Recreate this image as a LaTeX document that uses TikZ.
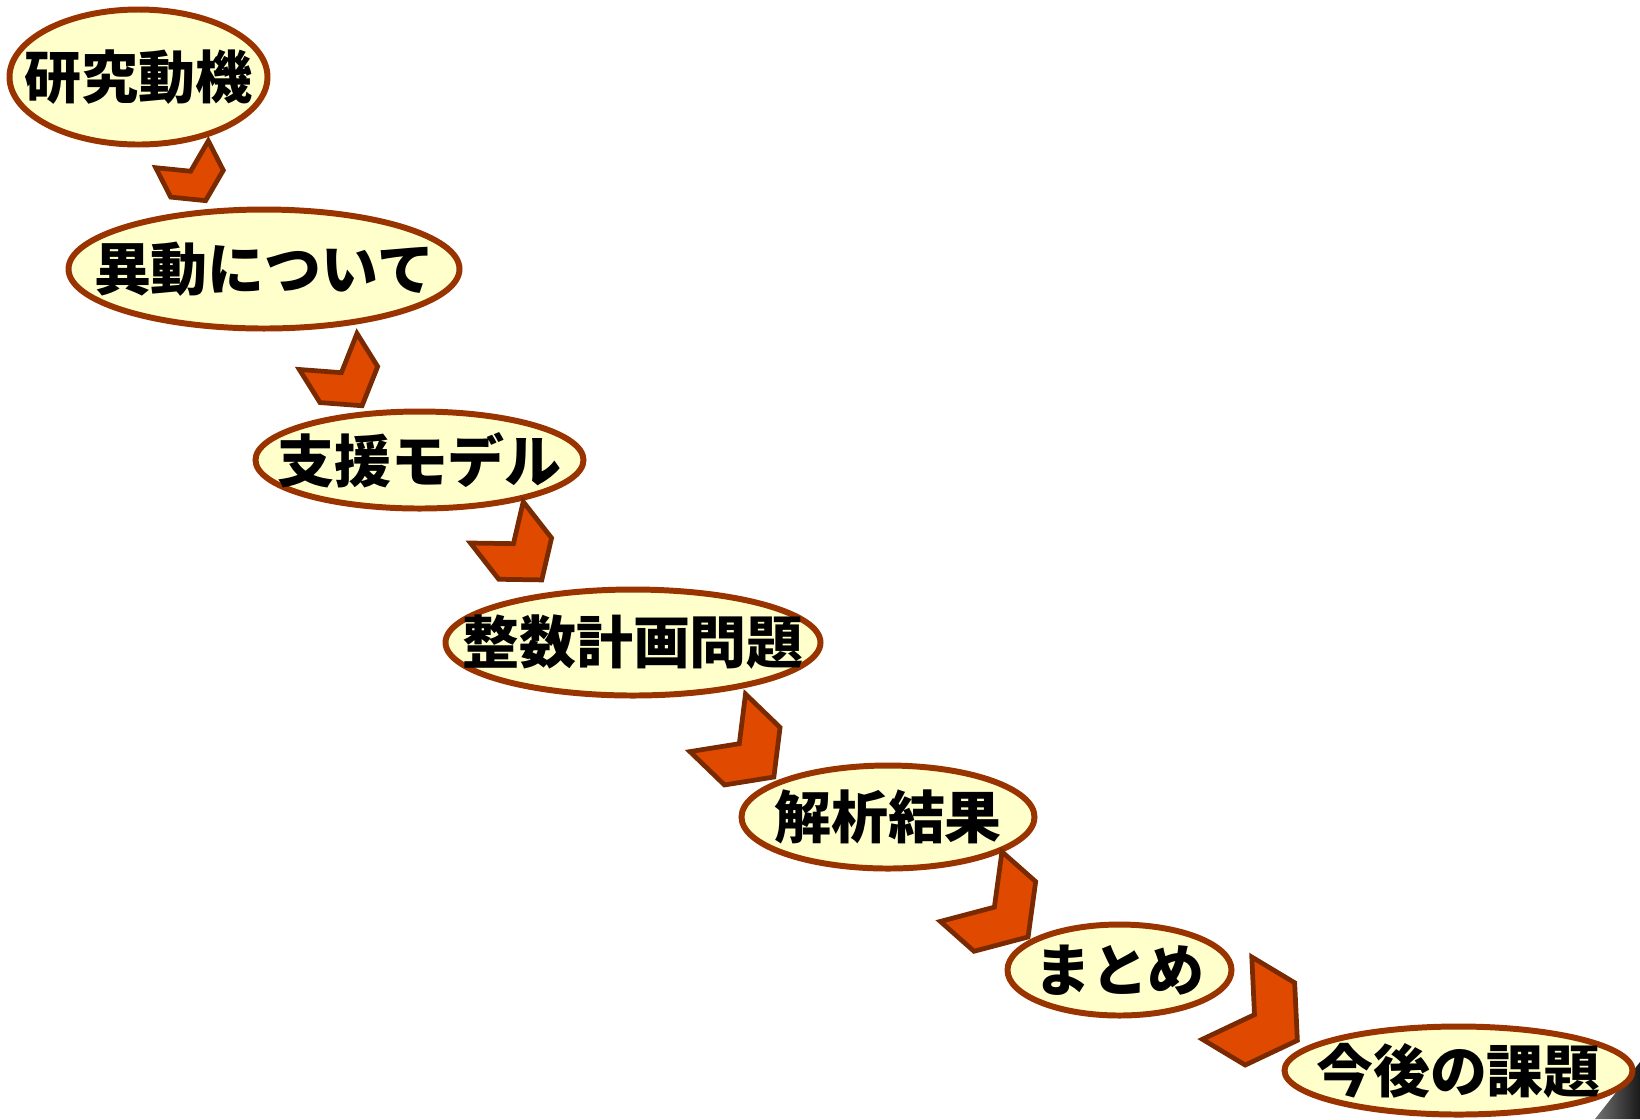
\documentclass[tikz,border=0pt]{standalone}
\usepackage{fontspec}
\newfontfamily\jpfont{Noto Sans CJK JP}
\usepackage{xcolor}
\usepackage{tikz}
\usetikzlibrary{shapes.geometric}
\definecolor{stagefill}{HTML}{FFFFCC}
\definecolor{stageline}{HTML}{993300}
\definecolor{chevfill}{HTML}{DF4A00}
\definecolor{chevline}{HTML}{7A2A00}
\tikzset{
  stage/.style={ellipse, draw=stageline, fill=stagefill, line width=1.7pt, inner sep=0pt},
  stagefont/.style={font=\jpfont\bfseries\fontsize{16.2}{18}\selectfont, inner sep=0pt},
  chevron/.pic={
    \tikzset{%
      /chevron/.cd,
      #1
    }
    \draw [fill=chevfill, draw=chevline, line width=1.35pt, pic actions]
    (-\chevside,\chevhalf) -- (\chevside,\chevhalf) -- (\chevside+\chevnotch,0) -- (\chevside,-\chevhalf)
    -- (-\chevside,-\chevhalf) -- (-\chevside+\chevnotch,0) -- cycle;
  },
  /chevron/.search also={/tikz},
  /chevron/.cd,
  half/.store in=\chevhalf,
  side/.store in=\chevside,
  notch/.store in=\chevnotch,
  half=.3,
  side=.2,
  notch=.2,
}

\begin{document}
\begin{tikzpicture}
                        \useasboundingbox (0,0) rectangle (16.40,-11.19);
                        \shade[left color=black!55, right color=black!90] (16.40,-10.62) -- (15.95,-11.19) -- (16.40,-11.19) -- cycle;
                        \node[stage, minimum width=2.58cm, minimum height=1.35cm, label={[stagefont]center:研究動機}] (motive) at (1.385,-0.77) {};
                        \node[stage, minimum width=3.91cm, minimum height=1.19cm, label={[stagefont]center:異動について}] (transfer) at (2.64,-2.69) {};
                        \node[stage, minimum width=3.28cm, minimum height=0.97cm, label={[stagefont]center:支援モデル}] (model) at (4.195,-4.60) {};
                        \node[stage, minimum width=3.75cm, minimum height=1.06cm, label={[stagefont]center:整数計画問題}] (ip) at (6.33,-6.425) {};
                        \node[stage, minimum width=2.93cm, minimum height=1.03cm, label={[stagefont]center:解析結果}] (result) at (8.88,-8.17) {};
                        \node[stage, minimum width=2.24cm, minimum height=0.91cm, label={[stagefont]center:まとめ}] (summary) at (11.195,-9.70) {};
                        \node[stage, minimum width=3.48cm, minimum height=0.88cm, label={[stagefont]center:今後の課題}] (future) at (14.585,-10.705) {};
                        \pic[rotate=-63] at (1.895,-1.69) {chevron={half=.295, side=.165, notch=.19}};
                        \pic[rotate=-58] at (3.385,-3.68) {chevron={half=.34, side=.195, notch=.25}};
                        \pic[rotate=-52] at (5.11,-5.405) {chevron={half=.335, side=.23, notch=.27}};
                        \pic[rotate=-44] at (7.35,-7.395) {chevron={half=.40, side=.24, notch=.30}};
                        \pic[rotate=-41.5] at (9.88,-9.015) {chevron={half=.465, side=.225, notch=.31}};
                        \pic[rotate=-31] at (12.485,-10.11) {chevron={half=.48, side=.25, notch=.32}};
                    \end{tikzpicture}
\end{document}
